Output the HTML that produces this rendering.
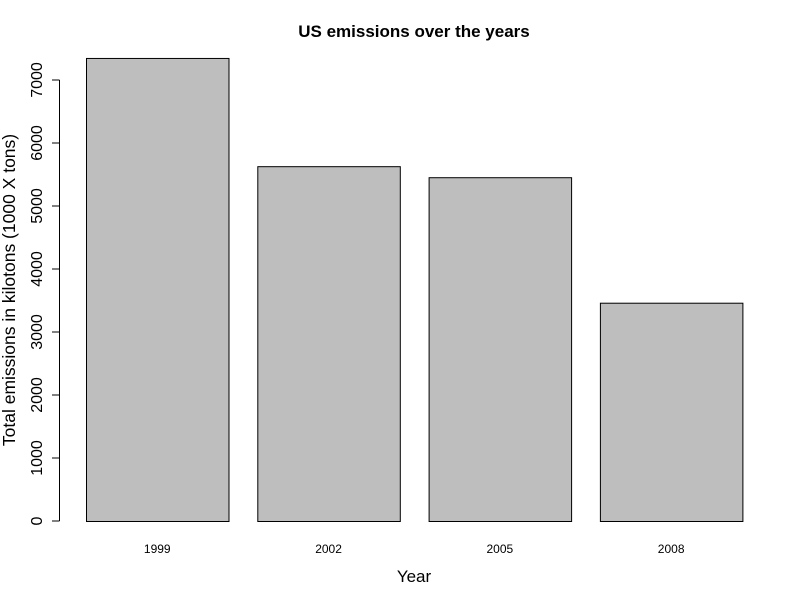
<!DOCTYPE html>
<html><head><meta charset="utf-8"><style>body{margin:0;background:#fff}svg{display:block;font-family:"Liberation Sans",sans-serif}</style></head>
<body>
<svg id="chart" width="800" height="600" xmlns="http://www.w3.org/2000/svg">
<rect width="800" height="600" fill="#fff"/>
<text x="414" y="37" text-anchor="middle" font-size="17" font-weight="bold">US emissions over the years</text>
<text x="414" y="582" text-anchor="middle" font-size="17">Year</text>
<text transform="translate(15,290) rotate(-90)" text-anchor="middle" font-size="17.5">Total emissions in kilotons (1000 X tons)</text>
<g id="bars"></g>
<g id="yaxis"></g>
</svg>
<script>
const categories = ["1999","2002","2005","2008"];
const values = [7350, 5632, 5457, 3465];
const yTicks = [0,1000,2000,3000,4000,5000,6000,7000];
const NS="http://www.w3.org/2000/svg";
function y(v){return 521 - v*(441/7000);}
function xLeft(i){return 86 + i*171.3;}
const bw=142.5;
const bars=document.getElementById('bars');
categories.forEach((c,i)=>{
  const r=document.createElementNS(NS,'rect');
  
  
  r.setAttribute('x',xLeft(i)+0.5);r.setAttribute('y',y(values[i])+0.5);
  r.setAttribute('width',bw);r.setAttribute('height',y(0)-y(values[i]));
  r.setAttribute('fill','#bebebe');r.setAttribute('stroke','#000');r.setAttribute('stroke-width','1');
  bars.appendChild(r);
  const t=document.createElementNS(NS,'text');
  
  
  t.setAttribute('x',xLeft(i)+bw/2);t.setAttribute('y',553);
  t.setAttribute('text-anchor','middle');t.setAttribute('font-size','12');
  t.textContent=c;bars.appendChild(t);
});
const ya=document.getElementById('yaxis');
const l=document.createElementNS(NS,'line');


l.setAttribute('x1',59.5);l.setAttribute('x2',59.5);l.setAttribute('y1',y(0));l.setAttribute('y2',y(7000));l.setAttribute('stroke','#000');
ya.appendChild(l);
yTicks.forEach(v=>{
  const tk=document.createElementNS(NS,'line');
  
  
  tk.setAttribute('x1',52);tk.setAttribute('x2',59.5);tk.setAttribute('y1',y(v));tk.setAttribute('y2',y(v));tk.setAttribute('stroke','#000');
  ya.appendChild(tk);
  const t=document.createElementNS(NS,'text');
  
  
  t.setAttribute('transform','translate(42,'+y(v)+') rotate(-90)');
  t.setAttribute('text-anchor','middle');t.setAttribute('font-size','16');
  t.textContent=v;ya.appendChild(t);
});
</script>
</body></html>
